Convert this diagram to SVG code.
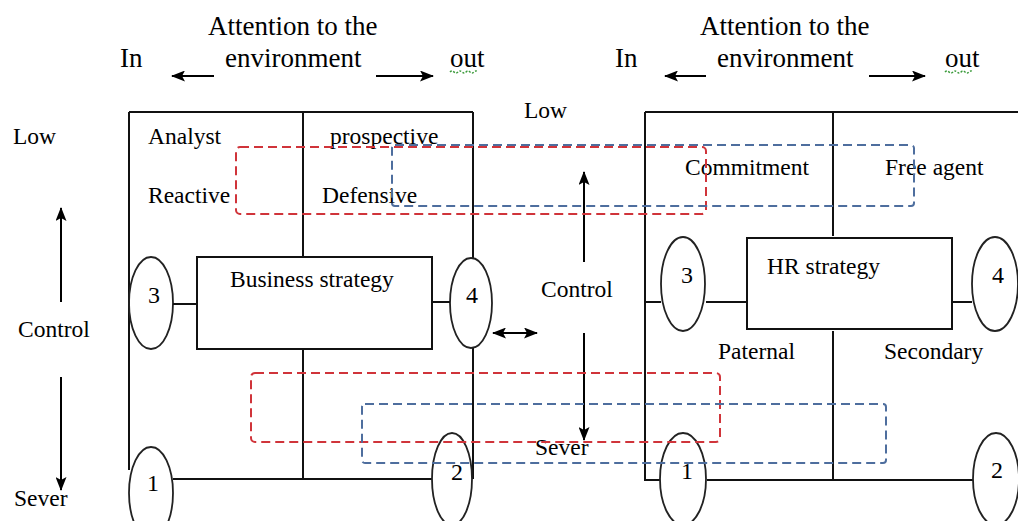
<svg xmlns="http://www.w3.org/2000/svg" width="1018" height="521" viewBox="0 0 1018 521">
<defs>
<marker id="ah" viewBox="0 0 14 11" refX="13" refY="5.5" markerWidth="14" markerHeight="11" markerUnits="userSpaceOnUse" orient="auto-start-reverse">
<path d="M0,0 L14,5.5 L0,11 L3,5.5 Z" fill="#000"/>
</marker>
</defs>
<style>
text{font-family:"Liberation Serif","Times New Roman",serif;fill:#000;}
.hd{font-size:27px;}
.bd{font-size:23.5px;}
.num{font-size:24px;text-anchor:middle;}
.ln{stroke:#111;stroke-width:2;fill:none;}
.el{stroke:#222;stroke-width:1.8;fill:none;}
.arr{stroke:#000;stroke-width:2;fill:none;marker-end:url(#ah);}
.red{stroke:#d0343a;stroke-width:2;fill:none;stroke-dasharray:9,5;}
.blue{stroke:#4e6e9e;stroke-width:2;fill:none;stroke-dasharray:9,5;}
.sq{stroke:#3a9a3a;stroke-width:1.5;fill:none;stroke-dasharray:2,1.5;}
</style>
<rect width="1018" height="521" fill="#fff"/>

<g id="header-left">
<text class="hd" x="208" y="35">Attention to the</text>
<text class="hd" x="225" y="67">environment</text>
<text class="hd" x="120" y="67">In</text>
<text class="hd" x="450" y="67">out</text>
<path class="sq" d="M450,72 q2,-2 4,0 t4,0 t4,0 t4,0 t4,0 t4,0 t4,0"/>
</g>
<g id="header-right">
<text class="hd" x="700" y="35">Attention to the</text>
<text class="hd" x="717" y="67">environment</text>
<text class="hd" x="615" y="67">In</text>
<text class="hd" x="945" y="67">out</text>
<path class="sq" d="M945,72 q2,-2 4,0 t4,0 t4,0 t4,0 t4,0 t4,0 t4,0"/>
</g>

<g id="axis-left">
<text class="bd" x="13" y="144">Low</text>
<text class="bd" x="18" y="337">Control</text>
<text class="bd" x="14" y="506">Sever</text>
</g>
<g id="axis-middle">
<text class="bd" x="524" y="118">Low</text>
<text class="bd" x="541" y="297">Control</text>
<text class="bd" x="535" y="455">Sever</text>
</g>

<g id="business-grid">
<path class="ln" d="M129,112 H473 M129,112 V470 M303,112 V257 M303,349 V479 M473,112 V258 M473,348 V479 M173,479 H432"/>
<text class="bd" x="148" y="144">Analyst</text>
<text class="bd" x="330" y="144">prospective</text>
<text class="bd" x="148" y="203">Reactive</text>
<text class="bd" x="322" y="203">Defensive</text>
</g>
<g id="business-strategy">
<rect class="ln" x="197" y="257" width="235" height="92"/>
<text class="bd" x="230" y="287">Business strategy</text>
</g>
<g id="b-node-3"><ellipse class="el" cx="151" cy="303" rx="22" ry="46"/><text class="num" x="154" y="303">3</text></g>
<g id="b-node-4"><ellipse class="el" cx="471" cy="303" rx="21" ry="45"/><text class="num" x="472" y="303">4</text></g>
<g id="b-node-1"><ellipse class="el" cx="151" cy="493" rx="22" ry="46"/><text class="num" x="153" y="491">1</text></g>
<g id="b-node-2"><ellipse class="el" cx="452" cy="479" rx="20" ry="46"/><text class="num" x="457" y="480">2</text></g>

<g id="hr-grid">
<path class="ln" d="M645,112 H1018 M645,112 V480 H660 M833,112 V236 M833,331 V480 M707,480 H973"/>
<text class="bd" x="685" y="175">Commitment</text>
<text class="bd" x="885" y="175">Free agent</text>
<text class="bd" x="718" y="359">Paternal</text>
<text class="bd" x="884" y="359">Secondary</text>
</g>
<g id="hr-strategy">
<rect class="ln" x="747" y="238" width="205" height="91"/>
<text class="bd" x="767" y="274">HR strategy</text>
</g>
<g id="h-node-3"><ellipse class="el" cx="683" cy="284" rx="22" ry="47"/><text class="num" x="687" y="283">3</text></g>
<g id="h-node-4"><ellipse class="el" cx="995" cy="284" rx="23" ry="47"/><text class="num" x="998" y="283">4</text></g>
<g id="h-node-1"><ellipse class="el" cx="683" cy="479" rx="23" ry="46"/><text class="num" x="687" y="479">1</text></g>
<g id="h-node-2"><ellipse class="el" cx="996" cy="479" rx="23" ry="46"/><text class="num" x="997" y="478">2</text></g>

<g id="connectors">
<path class="ln" d="M173,304 H197 M432,302 H450"/>
<path class="ln" d="M645,302 H661 M706,302 H747 M952,302 H972" stroke-width="3"/>
<line class="arr" x1="214" y1="76" x2="172" y2="76"/>
<line class="arr" x1="376" y1="76" x2="433" y2="76"/>
<line class="arr" x1="706" y1="76" x2="665" y2="76"/>
<line class="arr" x1="869" y1="76" x2="925" y2="76"/>
<line class="arr" x1="61" y1="302" x2="61" y2="208"/>
<line class="arr" x1="61" y1="377" x2="61" y2="490"/>
<line class="arr" x1="584" y1="262" x2="584" y2="172"/>
<line class="arr" x1="584" y1="333" x2="584" y2="440"/>
<line class="arr" x1="493" y1="333" x2="537" y2="333" marker-start="url(#ah)"/>
</g>

<g id="dashed-groups">
<rect class="red" x="236" y="147" width="470" height="67" rx="4"/>
<rect class="blue" x="392" y="145" width="522" height="61" rx="3"/>
<rect class="red" x="251" y="373" width="469" height="69" rx="4"/>
<rect class="blue" x="362" y="404" width="524" height="59" rx="3"/>
</g>
</svg>
